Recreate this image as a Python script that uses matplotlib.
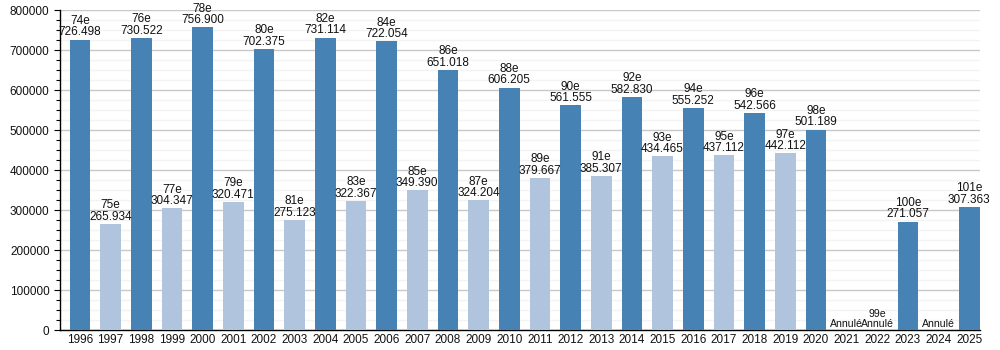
import matplotlib
matplotlib.use("Agg")
import matplotlib.pyplot as plt
from matplotlib.ticker import MultipleLocator

plt.rcParams["font.family"] = ["Liberation Sans", "DejaVu Sans"]

years = ["1996", "1997", "1998", "1999", "2000", "2001", "2002", "2003", "2004", "2005",
         "2006", "2007", "2008", "2009", "2010", "2011", "2012", "2013", "2014", "2015",
         "2016", "2017", "2018", "2019", "2020", "2021", "2022", "2023", "2024", "2025"]
editions = ["74e", "75e", "76e", "77e", "78e", "79e", "80e", "81e", "82e", "83e",
            "84e", "85e", "86e", "87e", "88e", "89e", "90e", "91e", "92e", "93e",
            "94e", "95e", "96e", "97e", "98e", "", "99e", "100e", "", "101e"]
values = [726498, 265934, 730522, 304347, 756900, 320471, 702375, 275123, 731114, 322367,
          722054, 349390, 651018, 324204, 606205, 379667, 561555, 385307, 582830, 434465,
          555252, 437112, 542566, 442112, 501189, 0, 0, 271057, 0, 307363]
value_labels = ["726.498", "265.934", "730.522", "304.347", "756.900", "320.471", "702.375",
                "275.123", "731.114", "322.367", "722.054", "349.390", "651.018", "324.204",
                "606.205", "379.667", "561.555", "385.307", "582.830", "434.465", "555.252",
                "437.112", "542.566", "442.112", "501.189", "Annulé", "Annulé", "271.057",
                "Annulé", "307.363"]
shade = ["dark", "light", "dark", "light", "dark", "light", "dark", "light", "dark", "light",
         "dark", "light", "dark", "light", "dark", "light", "dark", "light", "dark", "light",
         "dark", "light", "dark", "light", "dark", "dark", "dark", "dark", "dark", "dark"]

palette = {"dark": "#4682b4", "light": "#b0c4de"}

fig = plt.figure(figsize=(10, 3.5), dpi=100)
ax = fig.add_axes([0.06, 0.057, 0.92, 0.914])

x = list(range(len(years)))
ax.bar(x, values, width=0.68, color=[palette[s] for s in shade], zorder=3)

for xi, ed, v, lab in zip(x, editions, values, value_labels):
    txt = f"{ed}\n{lab}" if ed else lab
    fs = 7.6 if lab == "Annulé" else 8.5
    ax.text(xi, v + 3000, txt, ha="center", va="bottom", fontsize=fs,
            color="#111111", linespacing=0.95, zorder=4)

ax.set_xlim(-0.65, 29.35)
ax.set_ylim(0, 800000)
ax.set_xticks(x)
ax.set_xticklabels(years, fontsize=8.5, color="#111111")
ax.yaxis.set_major_locator(MultipleLocator(100000))
ax.yaxis.set_minor_locator(MultipleLocator(25000))
ax.tick_params(axis="y", labelsize=8.5, labelcolor="#111111", length=4, width=0.8)
ax.tick_params(axis="y", which="minor", length=3, width=0.8)
ax.tick_params(axis="x", length=0, pad=3)
ax.set_yticklabels([str(int(t)) for t in ax.get_yticks()])

ax.grid(axis="y", which="major", color="#c8c8c8", linewidth=1, zorder=0)
ax.grid(axis="y", which="minor", color="#f3f3f3", linewidth=1, zorder=0)
ax.set_axisbelow(True)

for side in ["top", "right"]:
    ax.spines[side].set_visible(False)
ax.spines["left"].set_linewidth(1)
ax.spines["bottom"].set_linewidth(1)

fig.savefig("out.png", dpi=100)
